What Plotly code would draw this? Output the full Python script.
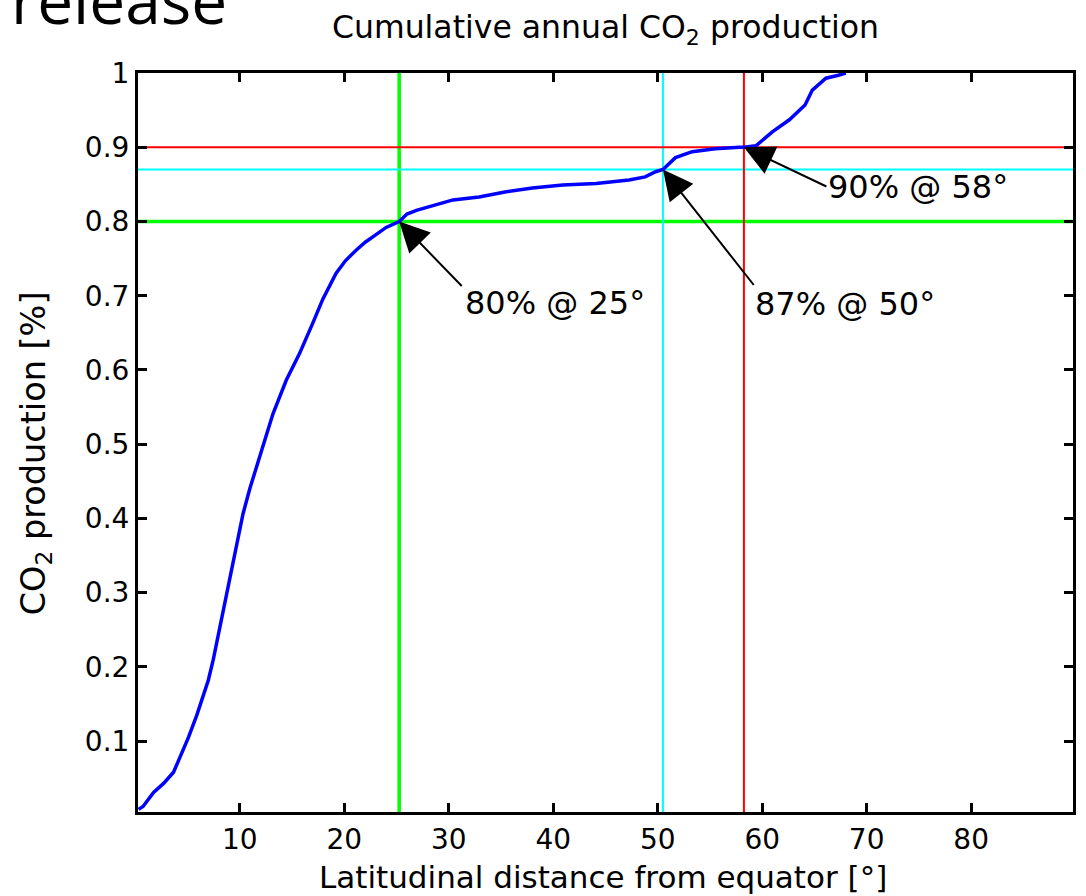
import plotly.graph_objects as go

# Cumulative share of annual CO2 production vs. latitudinal distance from the equator
lat = [0.3, 0.73, 1.74, 2.7, 3.65, 4.29, 5.08, 5.88, 6.35, 6.98, 7.46, 7.93, 8.41, 8.89,
       9.36, 9.69, 10.3, 10.95, 11.74, 12.54, 13.17, 14.44, 15.71, 16.98, 17.93, 19.2,
       20.1, 21.1, 22.0, 23.0, 24.0, 25.25, 26.0, 26.9, 28.1, 30.4, 32.9, 35.5, 38.0,
       40.9, 44.1, 47.25, 48.8, 49.8, 50.5, 51.2, 51.7, 53.3, 55.5, 57.8, 58.25, 59.4,
       61.0, 62.6, 64.1, 64.8, 66.1, 67.3, 68.0]
frac = [0.008, 0.012, 0.031, 0.043, 0.058, 0.078, 0.105, 0.135, 0.155, 0.182, 0.210,
        0.243, 0.277, 0.310, 0.342, 0.365, 0.406, 0.440, 0.476, 0.514, 0.541, 0.586,
        0.622, 0.663, 0.695, 0.730, 0.747, 0.761, 0.772, 0.782, 0.792, 0.800, 0.810,
        0.815, 0.820, 0.829, 0.833, 0.840, 0.845, 0.849, 0.851, 0.856, 0.860, 0.867,
        0.870, 0.880, 0.886, 0.894, 0.898, 0.900, 0.900, 0.902, 0.921, 0.937, 0.957,
        0.977, 0.993, 0.997, 1.000]

# threshold markers
mark_frac = [0.80, 0.87, 0.90]
mark_lat = [25.25, 50.5, 58.25]

x_ticks = [10, 20, 30, 40, 50, 60, 70, 80]
y_ticks = [0.1, 0.2, 0.3, 0.4, 0.5, 0.6, 0.7, 0.8, 0.9, 1.0]
y_tick_text = ["0.1", "0.2", "0.3", "0.4", "0.5", "0.6", "0.7", "0.8", "0.9", "1"]

# styling
mark_style = [
    dict(color="#00ff00", width=3.5),
    dict(color="#00ffff", width=2),
    dict(color="#ff0000", width=2),
]
# arrow tail offsets (px) and label offsets (px) relative to each marked point
arrow_off = [(64, 66), (92, 117), (84, 40)]
label_off = [(64, 82), (90, 134), (82, 40)]

FONT = "DejaVu Sans"
W, H = 1086, 896
PL, PR, PT, PB = 138, 1076, 73, 812


def px_x(px):
    return (px - PL) / (PR - PL)


def px_y(py):
    return (PB - py) / (PB - PT)


fig = go.Figure()
fig.add_trace(go.Scatter(x=lat, y=frac, mode="lines",
                         line=dict(color="#0000ff", width=3.5),
                         hoverinfo="skip", showlegend=False))

shapes = []
for f, la, st in zip(mark_frac, mark_lat, mark_style):
    shapes.append(dict(type="line", xref="paper", yref="y", x0=0, x1=1, y0=f, y1=f,
                       line=st, layer="below"))
    shapes.append(dict(type="line", xref="x", yref="paper", x0=la, x1=la, y0=0, y1=1,
                       line=st, layer="below"))

annotations = []
for f, la, (ax, ay), (dx, dy) in zip(mark_frac, mark_lat, arrow_off, label_off):
    annotations.append(dict(x=la, y=f, xref="x", yref="y", text="", showarrow=True,
                            arrowhead=2, arrowsize=3.0, arrowwidth=2, arrowcolor="black",
                            ax=ax, ay=ay))
    annotations.append(dict(x=la, y=f, xref="x", yref="y",
                            text=f"{round(f * 100)}% @ {int(la)}°",
                            showarrow=False, xanchor="left", yanchor="middle",
                            xshift=dx, yshift=-dy,
                            font=dict(family=FONT, size=32, color="black")))

annotations += [
    dict(text="Cumulative annual CO<sub>2</sub> production", xref="paper", yref="paper",
         x=px_x(607.5), y=px_y(29), xanchor="center", yanchor="middle", showarrow=False,
         font=dict(family=FONT, size=31.5, color="black")),
    dict(text="Latitudinal distance from equator [°]", xref="paper", yref="paper",
         x=px_x(604), y=px_y(877), xanchor="center", yanchor="middle", showarrow=False,
         font=dict(family=FONT, size=31, color="black")),
    dict(text="CO<sub>2</sub> production [%]", xref="paper", yref="paper",
         x=px_x(36), y=px_y(453), xanchor="center", yanchor="middle", showarrow=False,
         textangle=-90, font=dict(family=FONT, size=33.5, color="black")),
    dict(text="release", xref="paper", yref="paper",
         x=px_x(9), y=px_y(45), xanchor="left", yanchor="bottom", showarrow=False,
         font=dict(family="Open Sans", size=64, color="black")),
]

axis_common = dict(showline=True, linecolor="black", linewidth=3, mirror="ticks",
                   ticks="inside", ticklen=9, tickwidth=2.5, tickcolor="black",
                   showgrid=False, zeroline=False,
                   tickfont=dict(family=FONT, size=28, color="black"))

fig.update_layout(
    width=W, height=H, autosize=False,
    margin=dict(l=PL, r=W - PR, t=PT, b=H - PB, pad=0),
    paper_bgcolor="white", plot_bgcolor="white",
    xaxis=dict(range=[0.25, 89.75], tickvals=x_ticks, **axis_common),
    yaxis=dict(range=[0.0045, 1.0], tickvals=y_ticks, ticktext=y_tick_text, **axis_common),
    shapes=shapes, annotations=annotations, showlegend=False,
)

fig.write_html("out.html")
